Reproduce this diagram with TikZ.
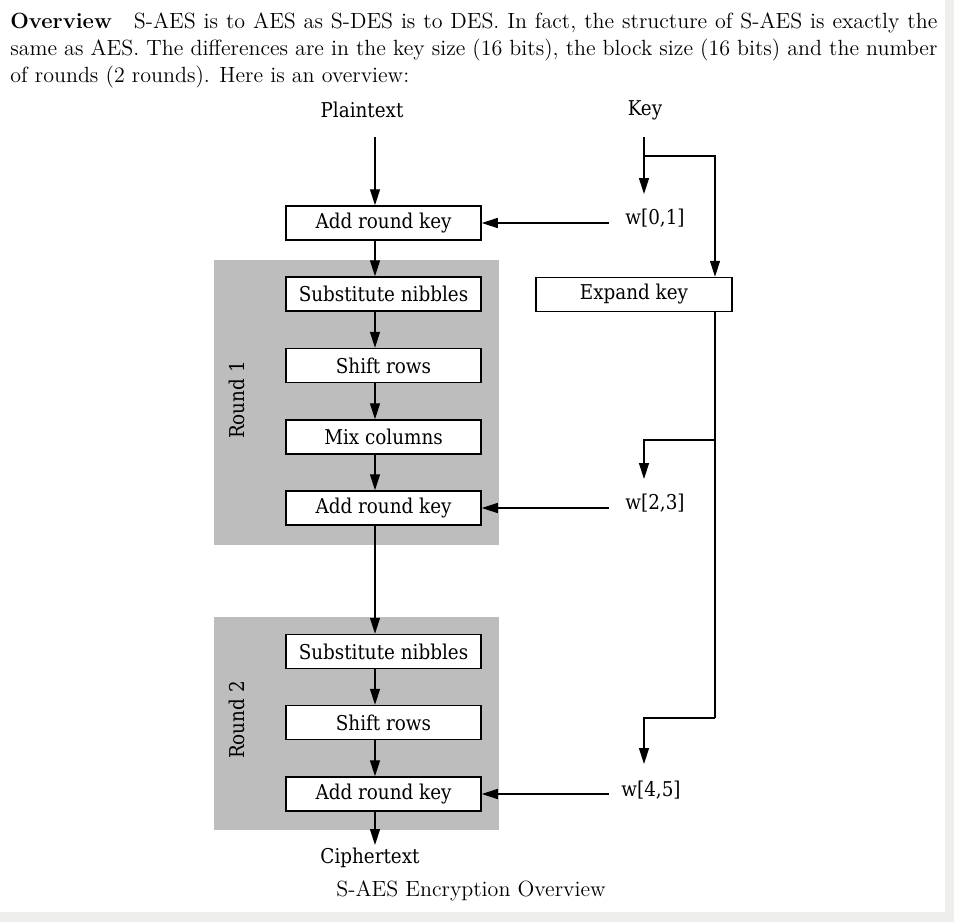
\documentclass[tikz,border=0pt]{standalone}
\usepackage{fontspec}
\newfontfamily\figfont{DejaVu Serif Condensed}
\usetikzlibrary{arrows.meta}
\definecolor{roundgray}{RGB}{189,189,189}
\definecolor{edgegray}{RGB}{238,238,236}

\begin{document}
\begin{tikzpicture}[x=0.5pt,y=-0.5pt,
  stage/.style={draw=black, line width=0.75pt, fill=white, minimum width=97.5pt,
    minimum height=17pt, inner sep=0pt, font=\figfont\fontsize{10.2}{11}\selectfont},
  lbl/.style={inner sep=0pt, font=\figfont\fontsize{10.2}{11}\selectfont},
  flow/.style={line width=0.7pt, -{Triangle[length=8pt,width=5pt]}},
  wire/.style={line width=0.7pt},
  roundbg/.style={fill=roundgray, draw=none},
  textline/.style={anchor=base west, inner sep=0pt, font=\fontsize{11}{13.5}\selectfont},
]
\useasboundingbox (0,0) rectangle (954,922);
% page edge
\fill[edgegray] (945,0) rectangle (954,922);
\fill[edgegray] (0,912) rectangle (954,922);

% introductory paragraph
\node[textline] (t1) at (10,28) {\makebox[463.5pt][s]{\textbf{Overview}\quad S-AES is to AES as S-DES is to DES. In fact, the structure of S-AES is exactly the}};
\node[textline] (t2) at (10,55) {\makebox[463.5pt][s]{same as AES. The differences are in the key size (16 bits), the block size (16 bits) and the number}};
\node[textline] (t3) at (10,82) {of rounds (2 rounds). Here is an overview:};

% round backgrounds
\fill[roundbg] (214,260) rectangle (499,545);
\fill[roundbg] (214,617) rectangle (499,830);
\node[lbl, rotate=90] (r1) at (237,400) {Round 1};
\node[lbl, rotate=90] (r2) at (237,720) {Round 2};

% data path
\coordinate (mx) at (375,0);
\coordinate (kx) at (644,0);
\coordinate (ex) at (715,0);
\node[lbl] (plain) at (362,110) {Plaintext};
\node[lbl] (key) at (645,110) {Key};
\node[stage] (ark1) at (383.5,223) {Add round key};
\node[stage] (sub1) at (383.5,294) {Substitute nibbles};
\node[stage] (shr1) at (383.5,365.5) {Shift rows};
\node[stage] (mix1) at (383.5,437) {Mix columns};
\node[stage] (ark2) at (383.5,508) {Add round key};
\node[stage] (sub2) at (383.5,651.5) {Substitute nibbles};
\node[stage] (shr2) at (383.5,722.5) {Shift rows};
\node[stage] (ark3) at (383.5,794) {Add round key};
\node[lbl] (cipher) at (370,858) {Ciphertext};
\node[stage, minimum width=98pt] (exp) at (634,294.5) {Expand key};

\node[lbl] (w01) at (655,218) {w[0,1]};
\node[lbl] (w23) at (655,503) {w[2,3]};
\node[lbl] (w45) at (651,790) {w[4,5]};

\coordinate (pstart) at (375,137);
\draw[flow] (pstart) -- (ark1.north -| mx);
\draw[flow] (ark1.south -| mx) -- (sub1.north -| mx);
\draw[flow] (sub1.south -| mx) -- (shr1.north -| mx);
\draw[flow] (shr1.south -| mx) -- (mix1.north -| mx);
\draw[flow] (mix1.south -| mx) -- (ark2.north -| mx);
\draw[flow] (ark2.south -| mx) -- (sub2.north -| mx);
\draw[flow] (sub2.south -| mx) -- (shr2.north -| mx);
\draw[flow] (shr2.south -| mx) -- (ark3.north -| mx);
\coordinate (cend) at (375,845);
\draw[flow] (ark3.south -| mx) -- (cend);

% key schedule
\coordinate (kstart) at (644,137);
\coordinate (kbranch) at (644,156);
\coordinate (k01) at (644,194);
\draw[flow] (kstart) -- (k01);
\draw[flow] (kbranch) -- (kbranch -| ex) -- (exp.north -| ex);
\coordinate (b23) at (715,440);
\coordinate (b45) at (715,718);
\coordinate (k23) at (644,479);
\coordinate (k45) at (644,764);
\draw[wire] (exp.south -| ex) -- (b45);
\draw[flow] (b23) -- (b23 -| kx) -- (k23);
\draw[flow] (b45) -- (b45 -| kx) -- (k45);

% round keys into the state
\draw[flow] (609,223) -- (ark1.east);
\draw[flow] (609,508) -- (ark2.east);
\draw[flow] (609,794) -- (ark3.east);

\node[anchor=base, inner sep=0pt, font=\fontsize{11}{13.5}\selectfont] (cap) at (471,896) {S-AES Encryption Overview};
\end{tikzpicture}
\end{document}
